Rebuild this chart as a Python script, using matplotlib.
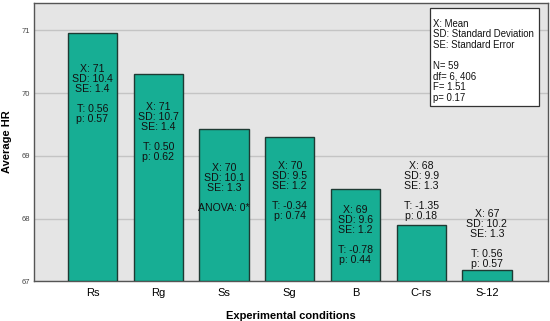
import matplotlib
matplotlib.use("Agg")
import matplotlib.pyplot as plt
from matplotlib.patches import Rectangle

plt.rcParams['font.family'] = ['Liberation Sans', 'DejaVu Sans']

categories = ["Rs", "Rg", "Ss", "Sg", "B", "C-rs", "S-12"]
avg_hr = [70.95, 70.30, 69.43, 69.30, 68.47, 67.90, 67.18]
bar_labels = [
    "X: 71\nSD: 10.4\nSE: 1.4\n\nT: 0.56\np: 0.57",
    "X: 71\nSD: 10.7\nSE: 1.4\n\nT: 0.50\np: 0.62",
    "X: 70\nSD: 10.1\nSE: 1.3\n\nANOVA: 0*",
    "X: 70\nSD: 9.5\nSE: 1.2\n\nT: -0.34\np: 0.74",
    "X: 69\nSD: 9.6\nSE: 1.2\n\nT: -0.78\np: 0.44",
    "X: 68\nSD: 9.9\nSE: 1.3\n\nT: -1.35\np: 0.18",
    "X: 67\nSD: 10.2\nSE: 1.3\n\nT: 0.56\np: 0.57",
]
label_top = [70.46, 69.86, 68.89, 68.91, 68.21, 68.91, 68.16]
yticks = [67, 68, 69, 70, 71]
legend_text = ("X: Mean\nSD: Standard Deviation\nSE: Standard Error\n\n"
               "N= 59\ndf= 6, 406\nF= 1.51\np= 0.17")

fig = plt.figure(figsize=(5.5, 3.21), dpi=100)
ax = fig.add_axes([0.0618, 0.1237, 0.9346, 0.8679])
ax.set_facecolor('#e5e5e5')

x = list(range(len(categories)))
ax.bar(x, [v - 67 for v in avg_hr], bottom=67, width=0.75,
       color='#17ae94', edgecolor='#1e3a33', linewidth=1.0, zorder=3)

for xi, txt, ty in zip(x, bar_labels, label_top):
    ax.text(xi, ty, txt, ha='center', va='top', fontsize=7.6,
            linespacing=1.0, color='#111111', zorder=4)

ax.set_xlim(-0.89, 6.93)
ax.set_ylim(67, 71.44)
ax.set_yticks(yticks)
ax.set_yticklabels([str(t) for t in yticks], fontsize=5.5, color='#444444')
ax.set_xticks(x)
ax.set_xticklabels(categories, fontsize=8)
ax.tick_params(axis='x', length=0, pad=5)
ax.tick_params(axis='y', length=0, pad=3)
ax.grid(axis='y', color='#c4c4c4', linewidth=1.0, zorder=1)
ax.set_axisbelow(True)

for s in ax.spines.values():
    s.set_color('#555555')
    s.set_linewidth(1.0)

ax.set_xlabel("Experimental conditions", fontsize=8, fontweight='bold', labelpad=9)
ax.set_ylabel("Average HR", fontsize=8, fontweight='bold', labelpad=7)

rect = Rectangle((0.770, 0.629), 0.212, 0.352, transform=ax.transAxes,
                 facecolor='white', edgecolor='#333333', linewidth=0.9, zorder=5)
ax.add_patch(rect)
ax.text(0.776, 0.943, legend_text, transform=ax.transAxes, ha='left', va='top',
        fontsize=6.9, linespacing=1.08, color='#111111', zorder=6)

fig.savefig("out.png", dpi=100)
